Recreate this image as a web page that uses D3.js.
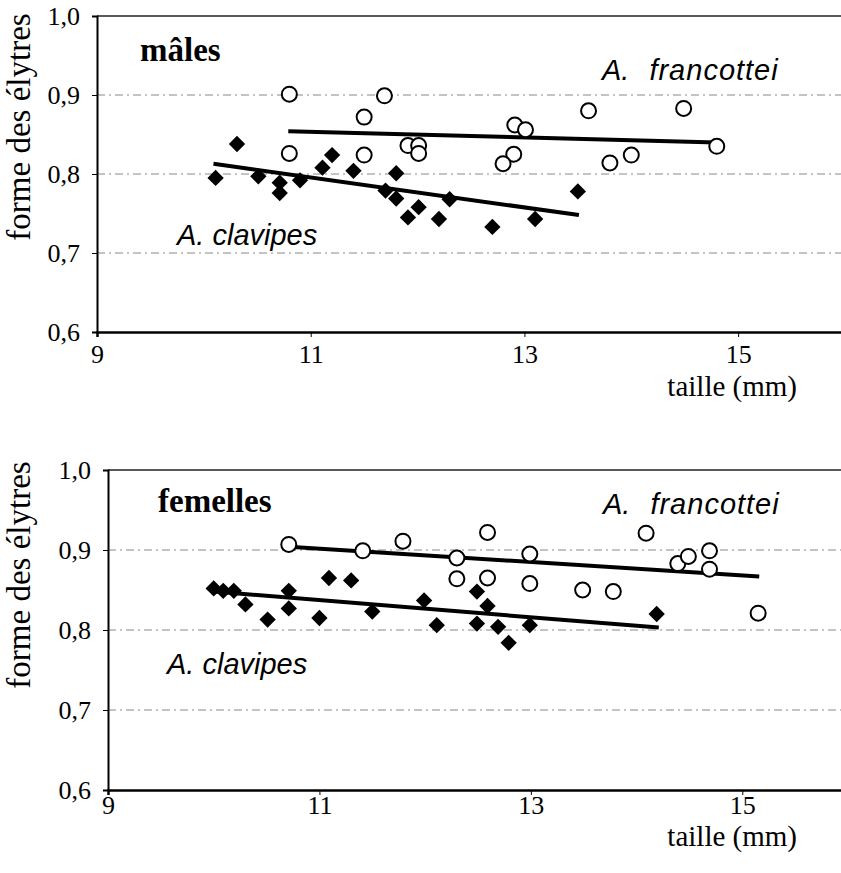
<!DOCTYPE html>
<html>
<head>
<meta charset="utf-8">
<script src="https://cdn.jsdelivr.net/npm/d3@7"></script>
<style>
body { margin: 0; background: #fff; }
svg { display: block; }
</style>
</head>
<body>
<script>
// values: [taille (mm), forme des élytres]
const malesFrancottei = [
    [10.80, 0.901], [11.69, 0.899], [11.50, 0.872], [10.80, 0.826],
    [11.50, 0.824], [11.91, 0.836], [12.01, 0.836], [12.01, 0.826],
    [12.91, 0.862], [13.01, 0.856], [12.90, 0.825], [12.80, 0.813],
    [13.60, 0.880], [14.49, 0.883], [13.80, 0.814], [14.00, 0.824],
    [14.80, 0.835]
];
const malesClavipes = [
    [10.11, 0.795], [10.31, 0.838], [10.51, 0.797], [10.71, 0.789],
    [10.71, 0.776], [10.90, 0.792], [11.11, 0.808], [11.20, 0.824],
    [11.40, 0.804], [11.80, 0.801], [11.70, 0.779], [11.80, 0.769],
    [12.01, 0.758], [11.91, 0.745], [12.20, 0.743], [12.30, 0.768],
    [12.70, 0.733], [13.10, 0.743], [13.50, 0.778]
];
const femellesFrancottei = [
    [10.71, 0.907], [11.41, 0.899], [11.79, 0.911], [12.30, 0.890],
    [12.30, 0.864], [12.59, 0.922], [12.59, 0.865], [12.99, 0.895],
    [12.99, 0.858], [13.49, 0.850], [13.78, 0.848], [14.09, 0.921],
    [14.39, 0.883], [14.49, 0.892], [14.69, 0.899], [14.69, 0.876],
    [15.15, 0.821]
];
const femellesClavipes = [
    [10.00, 0.852], [10.09, 0.849], [10.19, 0.849], [10.30, 0.832],
    [10.51, 0.813], [10.71, 0.849], [10.71, 0.827], [11.09, 0.865],
    [11.30, 0.862], [11.00, 0.815], [11.50, 0.823], [11.99, 0.837],
    [12.11, 0.806], [12.49, 0.848], [12.59, 0.830], [12.49, 0.808],
    [12.69, 0.804], [12.79, 0.784], [12.99, 0.806], [14.19, 0.820]
];

// trend lines (end points as drawn)
const malesFrancotteiTrend = [[10.79, 0.854], [14.80, 0.840]];
const malesClavipesTrend = [[10.09, 0.813], [13.51, 0.748]];
const femellesFrancotteiTrend = [[10.71, 0.904], [15.16, 0.867]];
const femellesClavipesTrend = [[10.00, 0.848], [14.21, 0.803]];

const xTicks = [9, 11, 13, 15];
const yTicks = [0.6, 0.7, 0.8, 0.9, 1.0];
const gridValues = [0.7, 0.8, 0.9];

const width = 841;
const height = 873;

const svg = d3
    .select("body")
    .append("svg")
    .attr("width", width)
    .attr("height", height);

const frLocale = d3.formatLocale({
    decimal: ",",
    thousands: " ",
    grouping: [3],
    currency: ["", " €"],
});
const yFormat = frLocale.format(".1f");

const serif = "'Liberation Serif', 'Times New Roman', serif";
const sans = "'Liberation Sans', Arial, sans-serif";

const panels = [
    {
        title: "mâles",
        francottei: malesFrancottei,
        clavipes: malesClavipes,
        francotteiTrend: malesFrancotteiTrend,
        clavipesTrend: malesClavipesTrend,
        left: 97, right: 845, top: 16, bottom: 332,
        xPad: 8,
        xTitleOffset: 64,
        titlePos: [140, 61],
        francotteiPos: [602, 80],
        clavipesPos: [177, 245],
        yTitleCenter: 127,
    },
    {
        title: "femelles",
        francottei: femellesFrancottei,
        clavipes: femellesClavipes,
        francotteiTrend: femellesFrancotteiTrend,
        clavipesTrend: femellesClavipesTrend,
        left: 108, right: 848, top: 470, bottom: 790,
        xPad: 1,
        xTitleOffset: 56,
        titlePos: [158, 512],
        francotteiPos: [603, 514],
        clavipesPos: [167, 674],
        yTitleCenter: 575,
    },
];

function drawPanel(p) {
    const x = d3.scaleLinear().domain([9, 16]).range([p.left, p.right]);
    const y = d3.scaleLinear().domain([0.6, 1.0]).range([p.bottom, p.top]);

    const g = svg.append("g");

    // dashed grid lines
    g.selectAll(".grid")
        .data(gridValues)
        .enter()
        .append("line")
        .attr("class", "grid")
        .attr("x1", p.left)
        .attr("x2", p.right)
        .attr("y1", (d) => y(d))
        .attr("y2", (d) => y(d))
        .attr("stroke", "#888")
        .attr("stroke-width", 1)
        .attr("stroke-dasharray", "8,4,2,4");

    // top frame line
    g.append("line")
        .attr("x1", p.left)
        .attr("x2", p.right)
        .attr("y1", y(1.0))
        .attr("y2", y(1.0))
        .attr("stroke", "#222")
        .attr("stroke-width", 1.5);

    // axes
    const xAxis = g
        .append("g")
        .attr("transform", `translate(0,${p.bottom})`)
        .call(
            d3.axisBottom(x)
                .tickValues(xTicks)
                .tickFormat((d) => d)
                .tickSize(5)
                .tickPadding(p.xPad)
        );
    xAxis.select(".domain").attr("stroke-width", 2.5).attr("stroke", "#000");
    xAxis.selectAll("text")
        .attr("font-family", serif)
        .attr("font-size", "26px")
        .attr("fill", "#000");

    const yAxis = g
        .append("g")
        .attr("transform", `translate(${p.left},0)`)
        .call(
            d3.axisLeft(y)
                .tickValues(yTicks)
                .tickFormat(yFormat)
                .tickSize(5)
                .tickPadding(12)
        );
    yAxis.select(".domain").attr("stroke-width", 2).attr("stroke", "#000");
    yAxis.selectAll("text")
        .attr("font-family", serif)
        .attr("font-size", "26px")
        .attr("fill", "#000");

    // axis titles
    g.append("text")
        .text("taille (mm)")
        .attr("x", 797)
        .attr("y", p.bottom + p.xTitleOffset)
        .attr("text-anchor", "end")
        .attr("font-family", serif)
        .attr("font-size", "29px");

    g.append("text")
        .text("forme des élytres")
        .attr("transform", `translate(30,${p.yTitleCenter}) rotate(-90)`)
        .attr("text-anchor", "middle")
        .attr("font-family", serif)
        .attr("font-size", "33px");

    // panel title
    g.append("text")
        .text(p.title)
        .attr("x", p.titlePos[0])
        .attr("y", p.titlePos[1])
        .attr("font-family", serif)
        .attr("font-weight", "bold")
        .attr("font-size", "33px");

    // species labels
    const fr = g.append("text")
        .attr("x", p.francotteiPos[0])
        .attr("y", p.francotteiPos[1])
        .attr("font-family", sans)
        .attr("font-style", "italic")
        .attr("font-size", "29px");
    fr.append("tspan").text("A.");
    fr.append("tspan").attr("dx", 20).attr("letter-spacing", 1).text("francottei");

    g.append("text")
        .text("A. clavipes")
        .attr("x", p.clavipesPos[0])
        .attr("y", p.clavipesPos[1])
        .attr("font-family", sans)
        .attr("font-style", "italic")
        .attr("font-size", "29px");

    // trend lines
    const line = d3.line().x((d) => x(d[0])).y((d) => y(d[1]));
    g.selectAll(".trend")
        .data([p.francotteiTrend, p.clavipesTrend])
        .enter()
        .append("path")
        .attr("class", "trend")
        .attr("d", line)
        .attr("fill", "none")
        .attr("stroke", "#000")
        .attr("stroke-width", 4);

    // A. clavipes: filled diamonds
    const diamond = d3.symbol().type(d3.symbolDiamond2).size(170);
    g.selectAll(".clav")
        .data(p.clavipes)
        .enter()
        .append("path")
        .attr("class", "clav")
        .attr("d", diamond)
        .attr("transform", (d) => `translate(${x(d[0])},${y(d[1])})`)
        .attr("fill", "#000");

    // A. francottei: open circles
    g.selectAll(".fran")
        .data(p.francottei)
        .enter()
        .append("circle")
        .attr("class", "fran")
        .attr("cx", (d) => x(d[0]))
        .attr("cy", (d) => y(d[1]))
        .attr("r", 7.5)
        .attr("fill", "#fff")
        .attr("stroke", "#000")
        .attr("stroke-width", 2);
}

panels.forEach(drawPanel);
</script>
</body>
</html>
